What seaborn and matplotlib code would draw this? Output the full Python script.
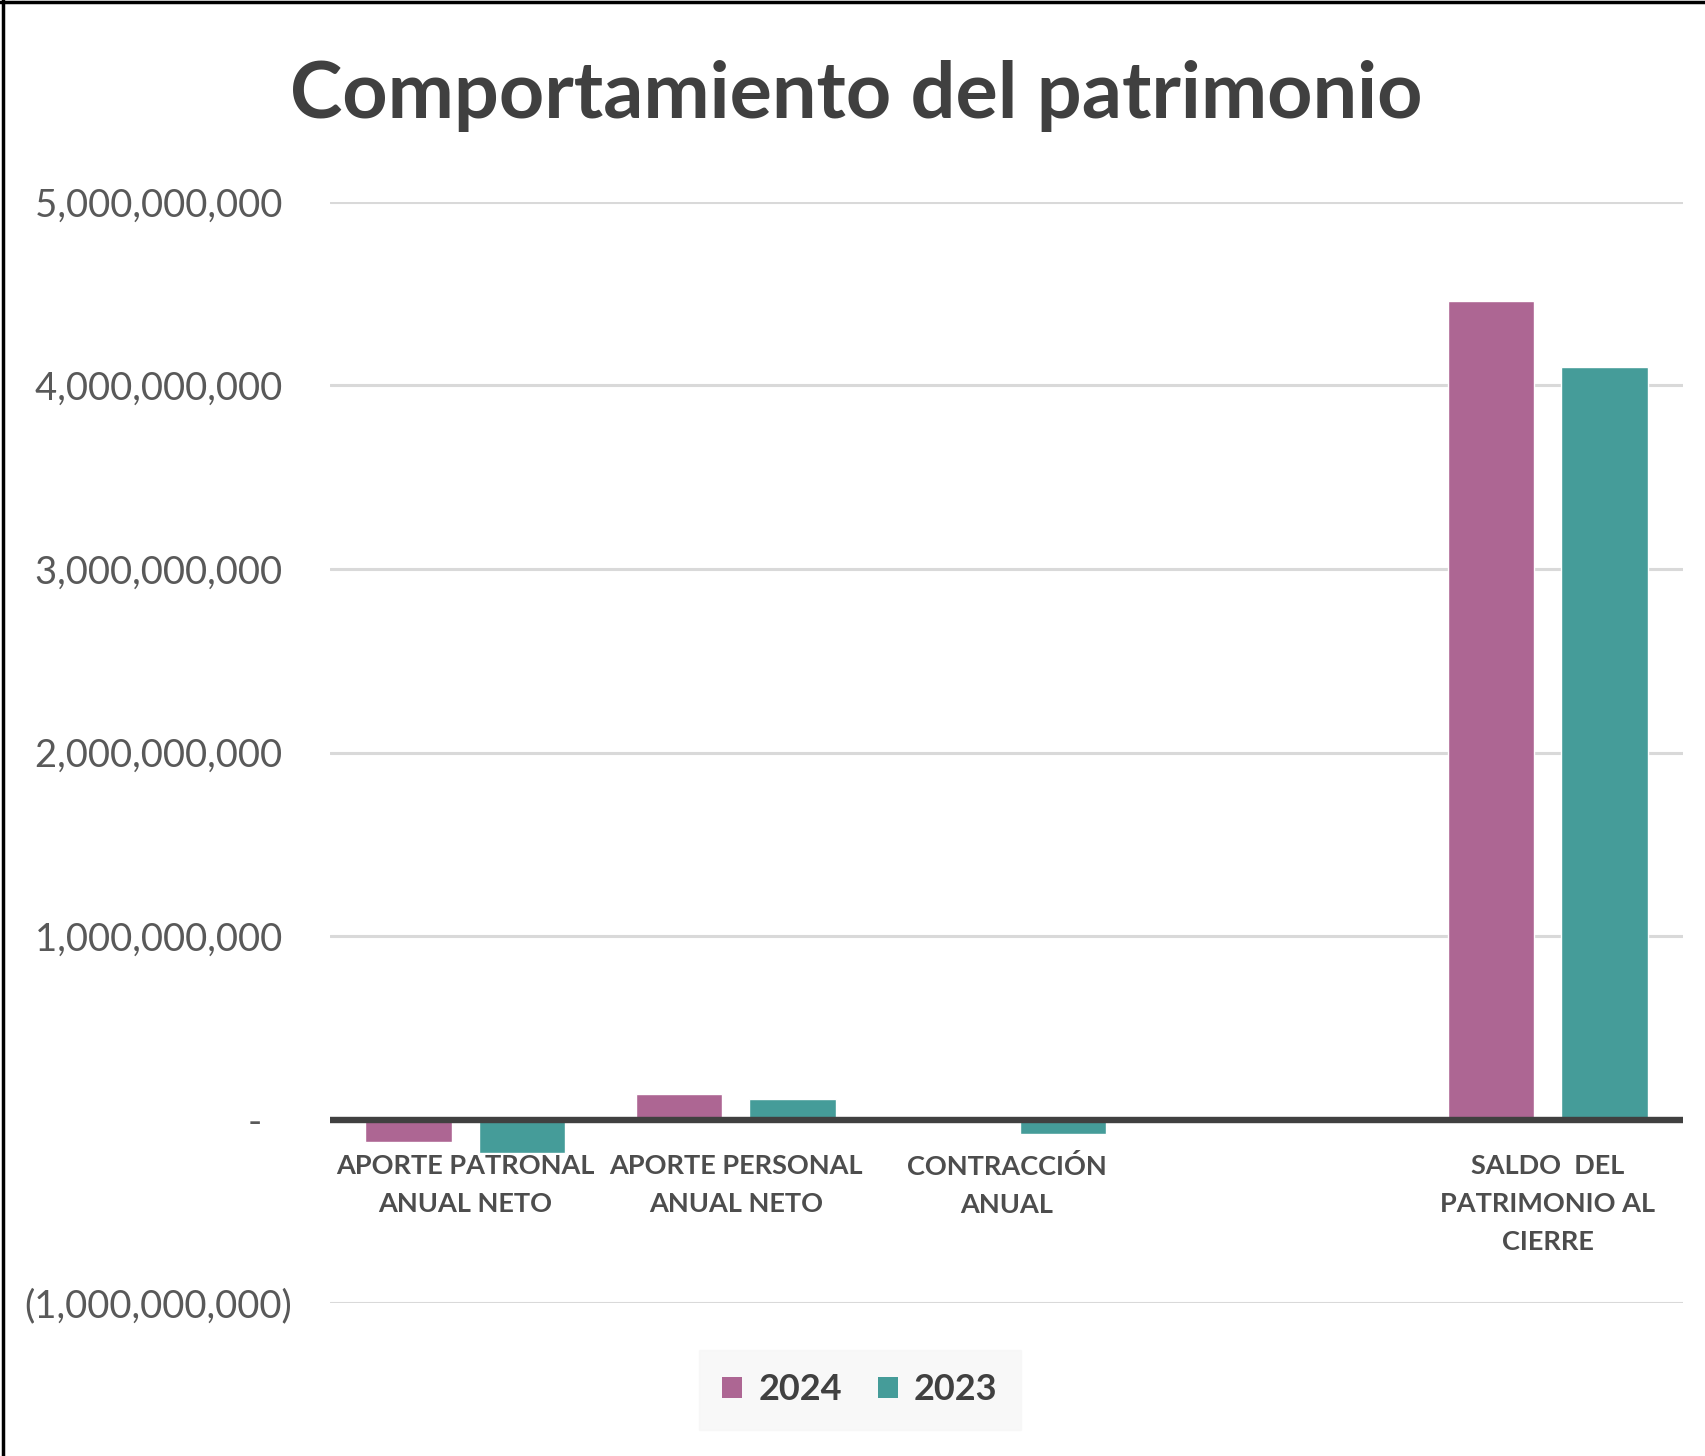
import matplotlib
matplotlib.use("Agg")
import matplotlib.pyplot as plt
import matplotlib.ticker as mticker
from matplotlib.lines import Line2D
from matplotlib.patches import Patch
import seaborn as sns
import pandas as pd

categories = [
    "APORTE PATRONAL\nANUAL NETO",
    "APORTE PERSONAL\nANUAL NETO",
    "CONTRACCIÓN\nANUAL",
    "",
    "SALDO  DEL\nPATRIMONIO AL\nCIERRE",
]
years = ["2024", "2023"]
values_2024 = [-120_000_000, 138_000_000, 0, None, 4_458_000_000]
values_2023 = [-180_000_000, 113_000_000, -76_000_000, None, 4_100_000_000]
yticks = [-1_000_000_000, 0, 1_000_000_000, 2_000_000_000, 3_000_000_000, 4_000_000_000, 5_000_000_000]
colors = {"2024": "#AD6693", "2023": "#459C99"}

rows = []
for c, v in zip(categories, values_2024):
    if v is not None:
        rows.append({"cat": c, "year": "2024", "val": v})
for c, v in zip(categories, values_2023):
    if v is not None:
        rows.append({"cat": c, "year": "2023", "val": v})
df = pd.DataFrame(rows)

sns.set_theme(style="white")
plt.rcParams["font.family"] = ["Lato", "DejaVu Sans"]

fig = plt.figure(figsize=(17.06, 14.56), dpi=100)
ax = fig.add_axes([0.1934, 0.105, 0.7931, 0.7563])

sns.barplot(data=df, x="cat", y="val", hue="year", order=categories,
            hue_order=years, palette=colors, width=0.84, gap=0.24,
            ax=ax, legend=False, saturation=1)

ax.set_ylim(-1_000_000_000, 5_000_000_000)
ax.set_xlim(-0.5, len(categories) - 0.5)
ax.set_yticks(yticks)

def fmt(v, pos):
    if abs(v) < 1:
        return "-   "
    if v < 0:
        return f"({abs(v):,.0f})"
    return f"{v:,.0f} "

ax.yaxis.set_major_formatter(mticker.FuncFormatter(fmt))
ax.grid(axis="y", color="#d9d9d9", linewidth=2.2)
ax.grid(axis="x", visible=False)
ax.set_axisbelow(True)
ax.axhline(0, color="#404040", linewidth=4.6, zorder=3)
for s in ax.spines.values():
    s.set_visible(False)
ax.tick_params(axis="both", length=0)
ax.tick_params(axis="y", labelsize=27.5, labelcolor="#595959", pad=27.5)
ax.set_xlabel("")
ax.set_ylabel("")

ax.set_xticks(range(len(categories)))
ax.set_xticklabels([])
for i, c in enumerate(categories):
    ax.text(i, -0.185e9, c, transform=ax.transData, ha="center", va="top",
            fontsize=19.5, fontweight="bold", color="#4d4d4d", linespacing=1.72)

fig.text(0.502, 0.934, "Comportamiento del patrimonio", ha="center", va="center",
         fontsize=57, fontweight="bold", color="#404040")

handles = [Patch(facecolor=colors[y], edgecolor="none") for y in years]
leg = fig.legend(handles, years, loc="center", bbox_to_anchor=(0.504, 0.0455),
                 ncol=2, frameon=True, handlelength=0.55, handleheight=0.55,
                 handletextpad=0.45, columnspacing=1.0, borderpad=0.35,
                 borderaxespad=0, prop={"weight": "bold", "size": 26})
leg.get_frame().set_facecolor("#f7f7f7")
leg.get_frame().set_edgecolor("#f7f7f7")
leg.get_frame().set_boxstyle("square")
for t in leg.get_texts():
    t.set_color("#404040")

fig.add_artist(Line2D([0.0015, 0.0015], [0, 1], color="black", linewidth=2.5, transform=fig.transFigure))
fig.add_artist(Line2D([0, 1], [0.9985, 0.9985], color="black", linewidth=2.5, transform=fig.transFigure))

fig.savefig("out.png", dpi=100, facecolor="white")
